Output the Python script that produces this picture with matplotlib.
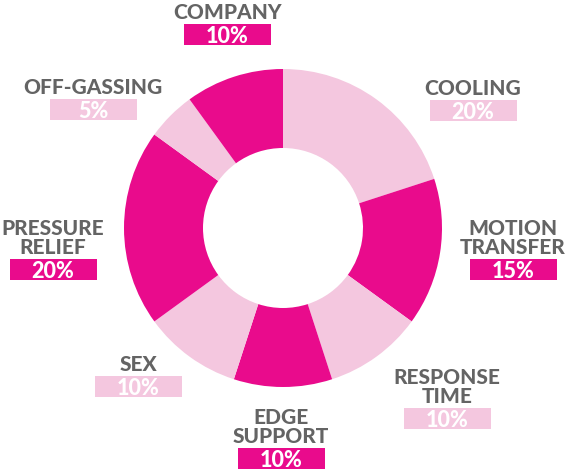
import matplotlib
matplotlib.use("Agg")
import matplotlib.pyplot as plt
from matplotlib.patches import Rectangle

categories = ["COOLING", "MOTION\nTRANSFER", "RESPONSE\nTIME", "EDGE\nSUPPORT",
              "SEX", "PRESSURE\nRELIEF", "OFF-GASSING", "COMPANY"]
shares = [20, 15, 10, 10, 10, 20, 5, 10]
dark = [False, True, False, True, False, True, False, True]

MAGENTA = "#E90B8C"
LIGHT = "#F4C7DF"
GRAY = "#646464"

# label anchor (pixel coords, x centre and y of the box top)
label_pos = [(473, 101), (513, 260), (447, 409), (281, 449),
             (138, 377), (53, 260), (93, 100), (227, 25)]

W, H = 567, 477
fig = plt.figure(figsize=(W / 100, H / 100), dpi=100)
ax = fig.add_axes([0, 0, 1, 1])

colors = [MAGENTA if d else LIGHT for d in dark]
ax.pie(shares, colors=colors, startangle=90, counterclock=False,
       center=(283, H - 229), radius=159,
       wedgeprops=dict(width=79, linewidth=0), frame=True)
ax.set_xlim(0, W)
ax.set_ylim(0, H)
ax.set_aspect("equal")
ax.axis("off")

box_w, box_h = 87, 21
for cat, val, d, (cx, top) in zip(categories, shares, dark, label_pos):
    yb = H - top - box_h
    ax.add_patch(Rectangle((cx - box_w / 2, yb), box_w, box_h,
                           facecolor=MAGENTA if d else LIGHT, edgecolor="none"))
    ax.text(cx, yb + box_h / 2 - 1, f"{val}%", ha="center", va="center",
            color="white", fontsize=15.5, fontweight="black", family="Lato")
    ax.text(cx, H - top + 3, cat, ha="center", va="bottom", color=GRAY,
            fontsize=15, fontweight="black", family="Lato", linespacing=1.0)

fig.savefig("out.png", dpi=100)
